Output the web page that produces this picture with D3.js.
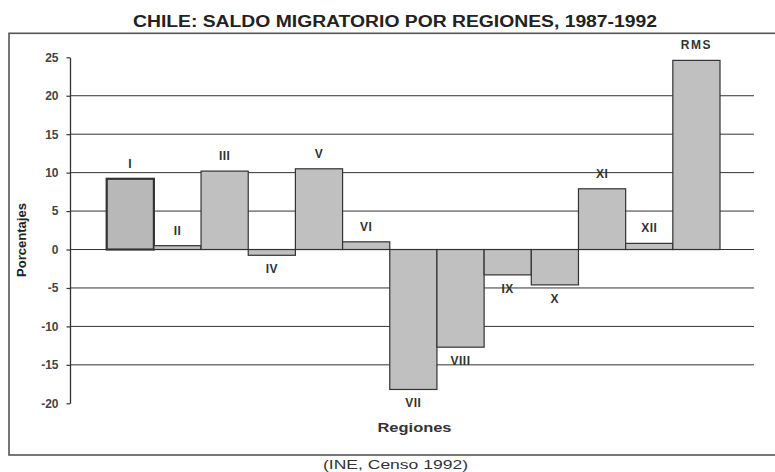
<!DOCTYPE html>
<html>
<head>
<meta charset="utf-8">
<script src="https://cdn.jsdelivr.net/npm/d3@7"></script>
<style>
  html, body { margin: 0; padding: 0; background: #fff; }
  svg { display: block; font-family: "Liberation Sans", Arial, sans-serif; }
</style>
</head>
<body>
<svg id="chart" width="775" height="472"></svg>
<script>
const regions = ["I","II","III","IV","V","VI","VII","VIII","IX","X","XI","XII","RMS"];
const values  = [9.2, 0.5, 10.2, -0.75, 10.5, 1.0, -18.2, -12.7, -3.3, -4.6, 7.9, 0.8, 24.6];
const yTicks  = [25, 20, 15, 10, 5, 0, -5, -10, -15, -20];
const gridValues = [20, 15, 10, 5, 0, -5, -10, -15];
const title = "CHILE: SALDO MIGRATORIO POR REGIONES, 1987-1992";
const yTitle = "Porcentajes";
const xTitle = "Regiones";
const source = "(INE, Censo 1992)";

const svg = d3.select("#chart");
const axisX = 70, plotRight = 754;

const y = d3.scaleLinear().domain([-20, 25]).range([403.3, 57.3]);
const x = d3.scaleBand().domain(regions).range([106.7, 720]).padding(0);

// outer frame
svg.append("rect").attr("x", 9).attr("y", 33.3).attr("width", 790).attr("height", 421.7)
  .attr("fill", "none").attr("stroke", "#555").attr("stroke-width", 1.6);

// title
svg.append("text").attr("x", 133).attr("y", 27).attr("font-size", 16).attr("font-weight", "bold")
  .attr("fill", "#222").attr("textLength", 524).attr("lengthAdjust", "spacingAndGlyphs").text(title);

// gridlines
svg.append("g").selectAll("line").data(gridValues).join("line")
  .attr("x1", axisX).attr("x2", plotRight)
  .attr("y1", d => y(d)).attr("y2", d => y(d))
  .attr("stroke", "#333").attr("stroke-width", 1);

// bars
const data = regions.map((r, i) => ({ r, v: values[i] }));
svg.append("g").selectAll("rect").data(data).join("rect")
  .attr("x", d => x(d.r))
  .attr("width", x.bandwidth())
  .attr("y", d => y(Math.max(0, d.v)))
  .attr("height", d => Math.abs(y(d.v) - y(0)))
  .attr("fill", d => d.r === "I" ? "#b8b8b8" : "#c0c0c0")
  .attr("stroke", "#333")
  .attr("stroke-width", d => d.r === "I" ? 2.2 : 1.2);

// y axis
const yAxis = d3.axisLeft(y).tickValues(yTicks).tickFormat(d => String(d))
  .tickSize(3.5).tickSizeOuter(0).tickPadding(8);
const gy = svg.append("g").attr("transform", `translate(${axisX},0)`).call(yAxis);
gy.select(".domain").attr("stroke", "#333").attr("stroke-width", 1.3);
gy.selectAll(".tick line").attr("stroke", "#333").attr("stroke-width", 1.2);
gy.selectAll(".tick text").attr("font-size", 12).attr("font-weight", "bold")
  .attr("fill", "#444").attr("font-family", "Liberation Sans, Arial, sans-serif");

// bar labels
svg.append("g").selectAll("text").data(data).join("text")
  .attr("x", d => x(d.r) + x.bandwidth() / 2)
  .attr("y", d => d.v >= 0 ? y(d.v) - 11 : y(d.v) + 18)
  .attr("text-anchor", "middle").attr("font-size", 12).attr("font-weight", "bold")
  .attr("fill", "#333")
  .attr("letter-spacing", d => d.r === "RMS" ? 1.5 : 0.5)
  .text(d => d.r);

// axis titles
svg.append("text").attr("transform", "translate(26,240) rotate(-90)")
  .attr("text-anchor", "middle").attr("font-size", 12).attr("font-weight", "bold")
  .attr("fill", "#222").attr("textLength", 74).attr("lengthAdjust", "spacingAndGlyphs").text(yTitle);

svg.append("text").attr("x", 414.5).attr("y", 431.5)
  .attr("text-anchor", "middle").attr("font-size", 13).attr("font-weight", "bold")
  .attr("fill", "#333").attr("textLength", 74).attr("lengthAdjust", "spacingAndGlyphs").text(xTitle);

// source
svg.append("text").attr("x", 395.5).attr("y", 468.5)
  .attr("text-anchor", "middle").attr("font-size", 13)
  .attr("fill", "#333").attr("textLength", 145).attr("lengthAdjust", "spacingAndGlyphs").text(source);
</script>
</body>
</html>
